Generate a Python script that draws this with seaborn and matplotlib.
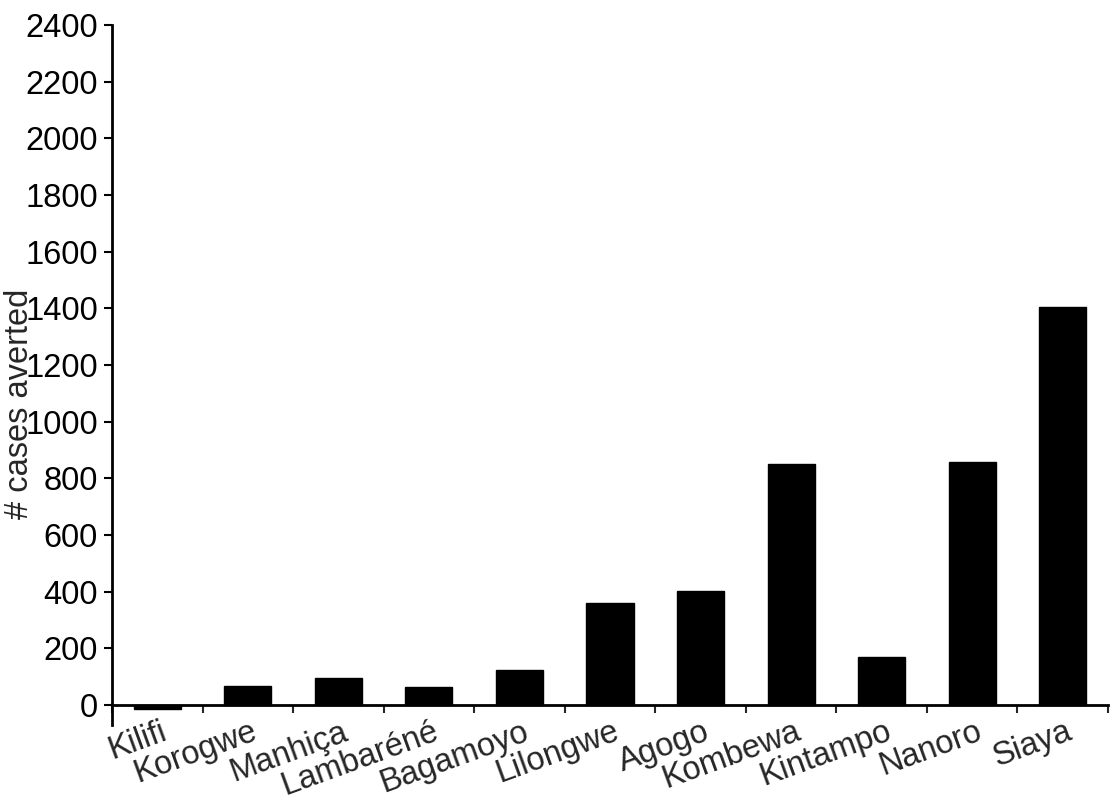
import matplotlib
matplotlib.use("Agg")
import matplotlib.pyplot as plt
import matplotlib.transforms as mtransforms
import seaborn as sns
import pandas as pd
import numpy as np

sites = ["Kilifi", "Korogwe", "Manhiça", "Lambaréné", "Bagamoyo", "Lilongwe",
         "Agogo", "Kombewa", "Kintampo", "Nanoro", "Siaya"]
cases_averted = [-15, 67, 95, 64, 124, 362, 402, 850, 169, 858, 1404]
y_ticks = [0, 200, 400, 600, 800, 1000, 1200, 1400, 1600, 1800, 2000, 2200, 2400]

sns.set_style("white")
plt.rcParams['font.family'] = ['Liberation Sans', 'DejaVu Sans']

df = pd.DataFrame({"site": sites, "cases": cases_averted})

fig = plt.figure(figsize=(11.12, 8), dpi=100)
ax = fig.add_axes([112/1112, 1-725/800, (1108-112)/1112, (725-25)/800])

sns.barplot(data=df, x="site", y="cases", color="black", width=0.52,
            saturation=1, edgecolor="black", ax=ax)

ax.set_xlim(-0.5, len(sites) - 0.5)
ax.set_ylim(-70, 2400)
ax.set_yticks(y_ticks)
ax.set_yticklabels([str(v) for v in y_ticks], fontsize=23.5)
ax.set_xlabel("")
ax.set_ylabel("")

for s in ["top", "right"]:
    ax.spines[s].set_visible(False)
ax.spines["bottom"].set_position(("data", 0))
ax.spines["bottom"].set_linewidth(2)
ax.spines["left"].set_linewidth(2)
ax.spines["bottom"].set_color("black")
ax.spines["left"].set_color("black")

ax.tick_params(axis="y", direction="out", length=6, width=1.5, pad=4, left=True, colors="black")
ax.set_xticks(np.arange(len(sites)))
ax.set_xticks(np.arange(-0.5, len(sites), 1.0), minor=True)
ax.tick_params(axis="x", which="major", length=0, pad=8)
ax.tick_params(axis="x", which="minor", direction="out", length=6, width=1.5, bottom=True)
ax.set_xticklabels(sites, fontsize=23.5, rotation=20, ha="right", rotation_mode="anchor")
offset = mtransforms.ScaledTranslation(3/100, 0, fig.dpi_scale_trans)
for lbl in ax.get_xticklabels():
    lbl.set_transform(lbl.get_transform() + offset)

fig.text(20/1112, 1-404/800, "# cases averted", rotation=90, fontsize=23.5,
         ha="center", va="center")

fig.savefig("out.png", dpi=100)
